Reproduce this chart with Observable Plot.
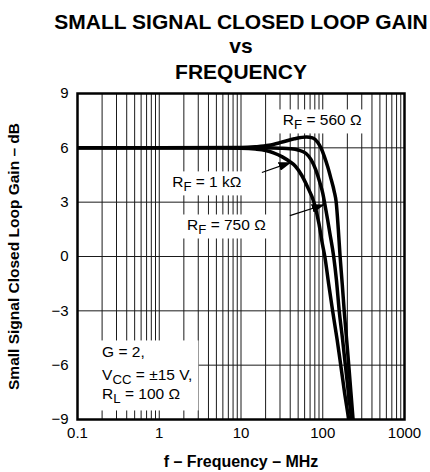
<!DOCTYPE html>
<html>
<head>
<meta charset="utf-8">
<script src="https://cdn.jsdelivr.net/npm/d3@7"></script>
<script src="https://cdn.jsdelivr.net/npm/@observablehq/plot@0.6"></script>
<style>
  html, body { margin: 0; padding: 0; background: white; }
</style>
</head>
<body>
<script>
// ---- data (frequency in MHz, gain in dB) ----
const freq1k  = [0.1, 1, 5, 10, 15, 20, 25, 32, 40, 46, 55, 65, 78, 90, 98, 106, 118, 132, 150, 166, 186, 208];
const gain1k  = [6.0, 6.0, 6.0, 5.98, 5.93, 5.85, 5.72, 5.5, 5.22, 5.0, 4.5, 3.85, 3.0, 1.8, 0.8, 0, -1.5, -3, -4.6, -6, -7.6, -9];

const freq750 = [0.1, 1, 10, 20, 30, 40, 50, 62, 72, 82, 92, 100, 106, 115, 122, 136, 147, 159, 175, 189, 207, 225];
const gain750 = [6.0, 6.0, 6.0, 6.0, 5.98, 5.95, 5.88, 5.7, 5.35, 4.8, 4.1, 3.5, 2.9, 2.0, 1.3, 0, -1.3, -3, -4.6, -6, -7.6, -9];

const freq560 = [0.1, 1, 10, 15, 22, 32, 45, 63, 75, 87, 95, 105, 115, 126, 138, 146, 155, 163, 173, 183, 196, 208, 221, 235];
const gain560 = [6.0, 6.0, 6.02, 6.06, 6.14, 6.32, 6.5, 6.6, 6.55, 6.3, 6.0, 5.5, 4.95, 4.3, 3.6, 3.0, 1.5, 0, -1.5, -3, -4.6, -6, -7.5, -9];

const xTickLabels = [0.1, 1, 10, 100, 1000];
const yTicks = [-9, -6, -3, 0, 3, 6, 9];

const titleLines = ["SMALL SIGNAL CLOSED LOOP GAIN", "vs", "FREQUENCY"];
const xLabel = "f – Frequency – MHz";
const yLabel = "Small Signal Closed Loop Gain – dB";

// curve labels: R with subscript F
const labelMain = ["R", "R", "R"];
const labelSub  = ["F", "F", "F"];
const labelRest = [" = 560 Ω", " = 1 kΩ", " = 750 Ω"];
const labelX    = [32.5, 1.44, 2.19];
const labelY    = [7.51, 4.09, 1.71];

// conditions note
const noteMain = ["G = 2,", "V", "R"];
const noteSub  = ["", "CC", "L"];
const noteRest = ["", " = ±15 V,", " = 100 Ω"];
const noteX    = [0.2, 0.2, 0.2];
const noteY    = [-5.3, -6.55, -7.62];

// arrows from labels to curves
const arrowX1 = [18.0, 39.6];
const arrowY1 = [4.64, 2.26];
const arrowX2 = [41.5, 105.7];
const arrowY2 = [5.21, 2.87];

// ---- build tables ----
const rows = [];
[["1k", freq1k, gain1k], ["750", freq750, gain750], ["560", freq560, gain560]].forEach(([s, f, g]) => {
  f.forEach((v, i) => rows.push({series: s, f: v, g: g[i]}));
});
const labels = labelMain.map((m, i) => ({text: m + labelSub[i] + labelRest[i], main: m, sub: labelSub[i], rest: labelRest[i], x: labelX[i], y: labelY[i]}));
const notes = noteMain.map((m, i) => ({text: m + noteSub[i] + noteRest[i], main: m, sub: noteSub[i], rest: noteRest[i], x: noteX[i], y: noteY[i]}));
const arrows = arrowX1.map((v, i) => ({x1: v, y1: arrowY1[i], x2: arrowX2[i], y2: arrowY2[i]}));
const xGrid = d3.scaleLog().domain([0.1, 1000]).ticks();

const svg = Plot.plot({
  width: 430,
  height: 472,
  marginLeft: 77,
  marginRight: 26,
  marginTop: 93,
  marginBottom: 53,
  style: {fontFamily: "'Liberation Sans', Arial, sans-serif", fontSize: "15px", background: "white", color: "black"},
  x: {type: "log", domain: [0.1, 1000]},
  y: {domain: [-9, 9]},
  marks: [
    Plot.ruleX(xGrid, {stroke: "#1a1a1a", strokeWidth: 1}),
    Plot.ruleY(yTicks, {stroke: "#1a1a1a", strokeWidth: 1}),
    Plot.text(labels, {x: "x", y: "y", text: "text", textAnchor: "start", fontSize: 15.5, fill: "black"}),
    Plot.text(notes, {x: "x", y: "y", text: "text", textAnchor: "start", fontSize: 15.5, fill: "black"}),
    Plot.line(rows, {x: "f", y: "g", z: "series", stroke: "black", strokeWidth: 3.5, curve: "monotone-x", clip: true}),
    Plot.link(arrows, {x1: "x1", y1: "y1", x2: "x2", y2: "y2", stroke: "black", strokeWidth: 1.2}),
    Plot.frame({stroke: "black", strokeWidth: 2.5}),
    Plot.axisY({ticks: yTicks, tickSize: 0, tickPadding: 9, fontSize: 15, label: null}),
    Plot.axisX({ticks: xTickLabels, tickFormat: d => String(d), tickSize: 0, tickPadding: 8, fontSize: 15, label: null}),
    Plot.text([titleLines[0]], {frameAnchor: "top", lineAnchor: "middle", textAnchor: "middle", dy: -71.4, fontSize: 21, fontWeight: "bold"}),
    Plot.text([titleLines[1]], {frameAnchor: "top", lineAnchor: "middle", textAnchor: "middle", dy: -47, fontSize: 21, fontWeight: "bold"}),
    Plot.text([titleLines[2]], {frameAnchor: "top", lineAnchor: "middle", textAnchor: "middle", dy: -21.4, fontSize: 21, fontWeight: "bold"}),
    Plot.text([xLabel], {frameAnchor: "bottom", lineAnchor: "middle", textAnchor: "middle", dy: 42.5, fontSize: 16, fontWeight: "bold"}),
    Plot.text([yLabel], {frameAnchor: "left", lineAnchor: "middle", textAnchor: "middle", dx: -63, rotate: -90, fontSize: 15.5, fontWeight: "bold"})
  ]
});
document.body.appendChild(svg);

// ---- post-processing: subscripts, white label boxes, filled arrowheads ----
const NS = "http://www.w3.org/2000/svg";
function applySub(el, d) {
  if (!d.sub) return;
  el.textContent = "";
  const t1 = document.createElementNS(NS, "tspan"); t1.textContent = d.main;
  const t2 = document.createElementNS(NS, "tspan"); t2.textContent = d.sub;
  t2.setAttribute("dy", "4"); t2.setAttribute("font-size", "0.85em");
  const t3 = document.createElementNS(NS, "tspan"); t3.textContent = d.rest;
  t3.setAttribute("dy", "-4");
  el.append(t1, t2, t3);
}
const byText = new Map();
labels.forEach(d => byText.set(d.text, {d, kind: "label"}));
notes.forEach(d => byText.set(d.text, {d, kind: "note"}));
const sRect = svg.getBoundingClientRect();
const labelEls = [], noteEls = [];
svg.querySelectorAll("text").forEach(el => {
  const hit = byText.get(el.textContent);
  if (!hit) return;
  applySub(el, hit.d);
  (hit.kind === "label" ? labelEls : noteEls).push(el);
});
function rel(el) {
  const r = el.getBoundingClientRect();
  return {x0: r.left - sRect.left, y0: r.top - sRect.top, x1: r.right - sRect.left, y1: r.bottom - sRect.top};
}
function addBox(beforeNode, b) {
  const r = document.createElementNS(NS, "rect");
  r.setAttribute("x", b.x0); r.setAttribute("y", b.y0);
  r.setAttribute("width", b.x1 - b.x0); r.setAttribute("height", b.y1 - b.y0);
  r.setAttribute("fill", "white");
  const g = document.createElementNS(NS, "g");
  g.appendChild(r);
  svg.insertBefore(g, beforeNode);
}
labelEls.forEach(el => {
  const b = rel(el);
  addBox(el.parentNode, {x0: b.x0 - 6, y0: b.y0 - 2, x1: b.x1 + 5, y1: b.y1 + 1});
});
if (noteEls.length) {
  const bs = noteEls.map(rel);
  const frameLeft = 77;
  addBox(noteEls[0].parentNode, {
    x0: frameLeft,
    y0: d3.min(bs, b => b.y0) - 3,
    x1: d3.max(bs, b => b.x1) + 6,
    y1: d3.max(bs, b => b.y1) + 4
  });
}
const defs = document.createElementNS(NS, "defs");
defs.innerHTML = '<marker id="ahead" viewBox="0 0 13 9" refX="13" refY="4.5" markerWidth="13" markerHeight="9" markerUnits="userSpaceOnUse" orient="auto"><path d="M0,0L13,4.5L0,9Z" fill="black"/></marker>';
svg.appendChild(defs);
svg.querySelectorAll('g[aria-label="link"] path').forEach(p => p.setAttribute("marker-end", "url(#ahead)"));
</script>
</body>
</html>
